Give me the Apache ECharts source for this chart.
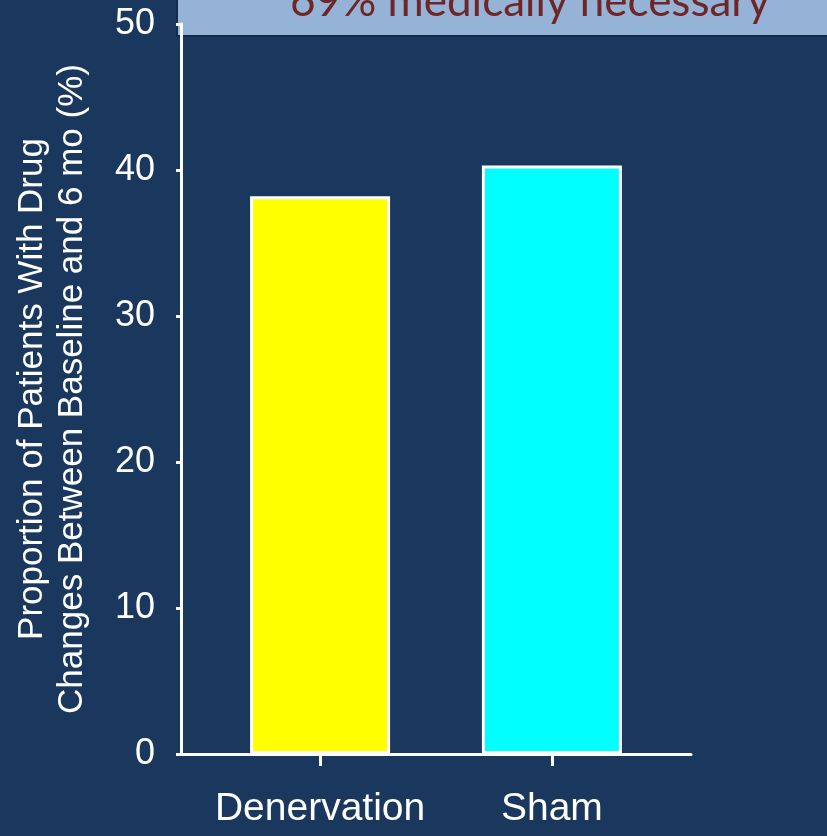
<!DOCTYPE html>
<html>
<head>
<meta charset="utf-8">
<script src="https://cdn.jsdelivr.net/npm/echarts@6/dist/echarts.min.js"></script>
<style>
  html, body { margin: 0; padding: 0; background: #1a375e; }
  #chart { width: 827px; height: 836px; }
</style>
</head>
<body>
<div id="chart"></div>
<script>
// Treatment groups and share of patients with a drug change (%)
const categories = ['Denervation', 'Sham'];
const proportions = [38.2, 40.3];
const barColors = ['#ffff00', '#00ffff'];
const yTicks = [0, 10, 20, 30, 40, 50];
const yAxisTitle = 'Proportion of Patients With Drug\nChanges Between Baseline and 6 mo (%)';
const noteText = '69% medically necessary';

const chart = echarts.init(document.getElementById('chart'), null, { renderer: 'canvas' });

const font = 'Liberation Sans, Arial, sans-serif';
const white = '#ffffff';

const option = {
  backgroundColor: '#1a375e',
  animation: false,
  grid: { left: 181, right: 136, top: 24, bottom: 82, containLabel: false },
  xAxis: {
    type: 'value',
    min: -0.6,
    max: 1.6,
    splitLine: { show: false },
    axisLine: { show: true, onZero: false, lineStyle: { color: white, width: 3 } },
    axisTick: {
      show: true,
      customValues: categories.map((_, i) => i),
      length: 12,
      lineStyle: { color: white, width: 3 }
    },
    axisLabel: {
      customValues: categories.map((_, i) => i),
      formatter: v => categories[Math.round(v)] || '',
      color: white,
      fontFamily: font,
      fontSize: 39,
      margin: 36
    }
  },
  yAxis: {
    type: 'value',
    min: yTicks[0],
    max: yTicks[yTicks.length - 1],
    interval: yTicks[1] - yTicks[0],
    splitLine: { show: false },
    axisLine: { show: true, onZero: false, lineStyle: { color: white, width: 3 } },
    axisTick: { show: true, length: 5, lineStyle: { color: white, width: 3 } },
    axisLabel: {
      color: white,
      fontFamily: font,
      fontSize: 36,
      margin: 26
    },
    name: yAxisTitle,
    nameLocation: 'middle',
    nameRotate: 90,
    nameGap: 89,
    nameTextStyle: {
      color: white,
      fontFamily: font,
      fontSize: 35,
      lineHeight: 40,
      align: 'center'
    }
  },
  series: [{
    type: 'bar',
    barWidth: 140,
    data: proportions.map((v, i) => ({
      value: [i, v],
      itemStyle: { color: barColors[i] }
    })),
    itemStyle: { borderColor: white, borderWidth: 3 },
    z: 1
  }],
  graphic: [{
    type: 'group',
    z: 100,
    children: [{
      type: 'rect',
      shape: { x: 177, y: -5, width: 660, height: 41 },
      style: { fill: '#95b3d7', stroke: '#132c4c', lineWidth: 2 }
    }, {
      type: 'text',
      x: 530,
      y: 24,
      style: {
        text: noteText,
        fill: '#6f2626',
        font: '44px Lato, "Open Sans", sans-serif',
        align: 'center',
        verticalAlign: 'bottom'
      }
    }]
  }]
};

chart.setOption(option);
</script>
</body>
</html>
